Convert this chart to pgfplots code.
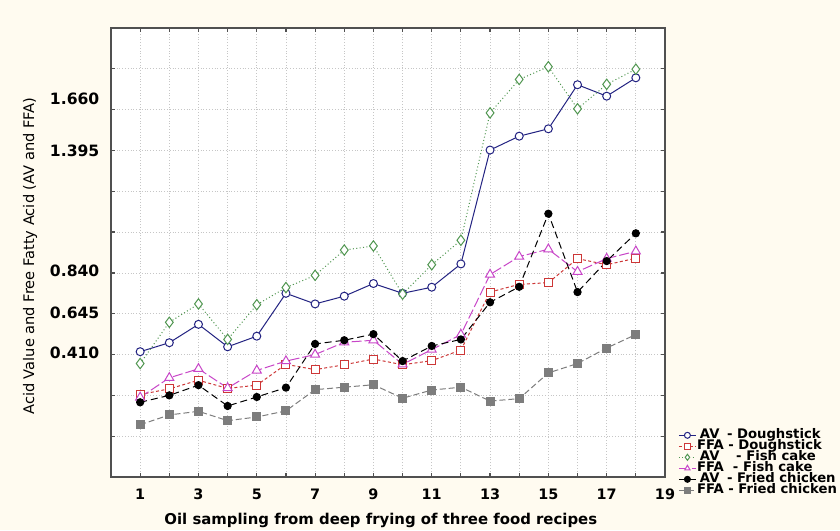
\documentclass[border=0pt]{standalone}
\usepackage{fontspec}
\setmainfont{DejaVu Sans}
\usepackage{pgfplots}
\pgfplotsset{compat=1.18}
\definecolor{bg}{RGB}{255,251,240}
\definecolor{avd}{RGB}{35,35,130}
\definecolor{ffad}{RGB}{205,55,55}
\definecolor{avf}{RGB}{80,150,80}
\definecolor{ffaf}{RGB}{200,70,200}
\definecolor{ffac}{RGB}{125,125,125}
\definecolor{axisc}{RGB}{80,80,80}
\begin{document}
\begin{tikzpicture}[x=1pt,y=1pt]
\fill[bg] (0,0) rectangle (420,265);
\useasboundingbox (0,0) rectangle (420,265);
\begin{axis}[
 at={(55.5pt,26.5pt)}, anchor=south west,
 scale only axis, width=277pt, height=224.5pt,
 xmin=0, xmax=19, ymin=0, ymax=11,
 axis background/.style={fill=white},
 axis line style={axisc, line width=0.7pt},
 xtick={1,...,19}, xticklabels={1,,3,,5,,7,,9,,11,,13,,15,,17,,19},
 ytick={1,...,10}, yticklabels={},
 extra y ticks={3.05,4.03,5.06,7.98,9.27},
 extra y tick labels={0.410,0.645,0.840,1.395,1.660},
 extra y tick style={grid=none, major tick length=0pt},
 grid=major, grid style={densely dotted, gray!45, line width=0.4pt},
 tick align=inside, tick pos=both, major tick length=2pt,
 tick style={axisc, line width=0.6pt},
 xticklabel style={font=\bfseries\fontsize{7.2}{8}\selectfont, yshift=-2.5pt},
 yticklabel style={font=\bfseries\fontsize{7.8}{9}\selectfont, xshift=-2.3pt},
 xlabel={Oil sampling from deep frying of three food recipes},
 xlabel style={font=\bfseries\fontsize{7.45}{8}\selectfont, at={(axis description cs:0.487,-0.096)}, anchor=center},
 ylabel={Acid Value and Free Fatty Acid (AV and FFA)},
 ylabel style={font=\fontsize{7.3}{8}\selectfont, at={(axis description cs:-0.146,0.492)}, anchor=center},
 legend style={draw=none, fill=none, at={(axis description cs:1.0235,0.106)}, anchor=north west,
   font=\bfseries\fontsize{6.6}{7}\selectfont, inner sep=0pt,
   nodes={inner sep=0.3pt, text height=4.1pt, text depth=0.8pt}, row sep=0pt,
   cells={anchor=west}},
 legend image code/.code={\draw[mark repeat=2,mark phase=2,#1] plot coordinates {(0pt,0pt) (4.25pt,0pt) (8.5pt,0pt)};},
 legend image post style={mark size=1.5pt},
]
\addplot[avd, line width=0.5pt, mark=*, mark size=2pt, mark options={solid, fill=white, draw=avd}] coordinates {
(1,3.07)(2,3.29)(3,3.74)(4,3.19)(5,3.45)(6,4.50)(7,4.24)(8,4.43)(9,4.74)(10,4.50)(11,4.65)(12,5.22)(13,8.01)(14,8.35)(15,8.53)(16,9.61)(17,9.33)(18,9.78)};
\addlegendentry{\makebox[1.924em][c]{AV}\ - Doughstick}
\addplot[ffad, line width=0.5pt, dash pattern=on 1.5pt off 1.2pt, mark=square*, mark size=2pt, mark options={solid, fill=white, draw=ffad}] coordinates {
(1,2.02)(2,2.16)(3,2.37)(4,2.17)(5,2.25)(6,2.76)(7,2.63)(8,2.75)(9,2.89)(10,2.75)(11,2.85)(12,3.11)(13,4.53)(14,4.72)(15,4.76)(16,5.35)(17,5.20)(18,5.36)};
\addlegendentry{FFA - Doughstick}
\addplot[avf, line width=0.5pt, dash pattern=on 0.5pt off 1.2pt, mark=diamond*, mark size=2.6pt, mark options={solid, fill=white, draw=avf}] coordinates {
(1,2.78)(2,3.79)(3,4.24)(4,3.37)(5,4.22)(6,4.64)(7,4.94)(8,5.56)(9,5.66)(10,4.48)(11,5.20)(12,5.80)(13,8.92)(14,9.74)(15,10.05)(16,9.02)(17,9.62)(18,9.99)};
\addlegendentry{\makebox[1.924em][c]{AV}\ \ \ - Fish cake}
\addplot[ffaf, line width=0.5pt, dash pattern=on 5pt off 1.5pt, mark=triangle*, mark size=2.6pt, mark options={solid, fill=white, draw=ffaf}] coordinates {
(1,1.95)(2,2.43)(3,2.65)(4,2.18)(5,2.61)(6,2.84)(7,3.00)(8,3.30)(9,3.35)(10,2.76)(11,3.12)(12,3.49)(13,4.96)(14,5.40)(15,5.58)(16,5.03)(17,5.35)(18,5.53)};
\addlegendentry{FFA\ \ - Fish cake}
\addplot[black, line width=0.5pt, dash pattern=on 3.5pt off 2pt, mark=*, mark size=1.8pt, mark options={solid, fill=black}] coordinates {
(1,1.83)(2,2.00)(3,2.25)(4,1.74)(5,1.96)(6,2.19)(7,3.26)(8,3.35)(9,3.50)(10,2.84)(11,3.21)(12,3.37)(13,4.28)(14,4.66)(15,6.45)(16,4.53)(17,5.29)(18,5.97)};
\addlegendentry{\makebox[1.924em][c]{AV}\ - Fried chicken}
\addplot[ffac, line width=0.5pt, dash pattern=on 3pt off 1.5pt, mark=square*, mark size=2pt, mark options={solid, fill=ffac}] coordinates {
(1,1.28)(2,1.52)(3,1.61)(4,1.38)(5,1.47)(6,1.62)(7,2.14)(8,2.20)(9,2.26)(10,1.93)(11,2.13)(12,2.20)(13,1.86)(14,1.92)(15,2.55)(16,2.78)(17,3.16)(18,3.49)};
\addlegendentry{FFA - Fried chicken}
\end{axis}
\end{tikzpicture}
\end{document}
